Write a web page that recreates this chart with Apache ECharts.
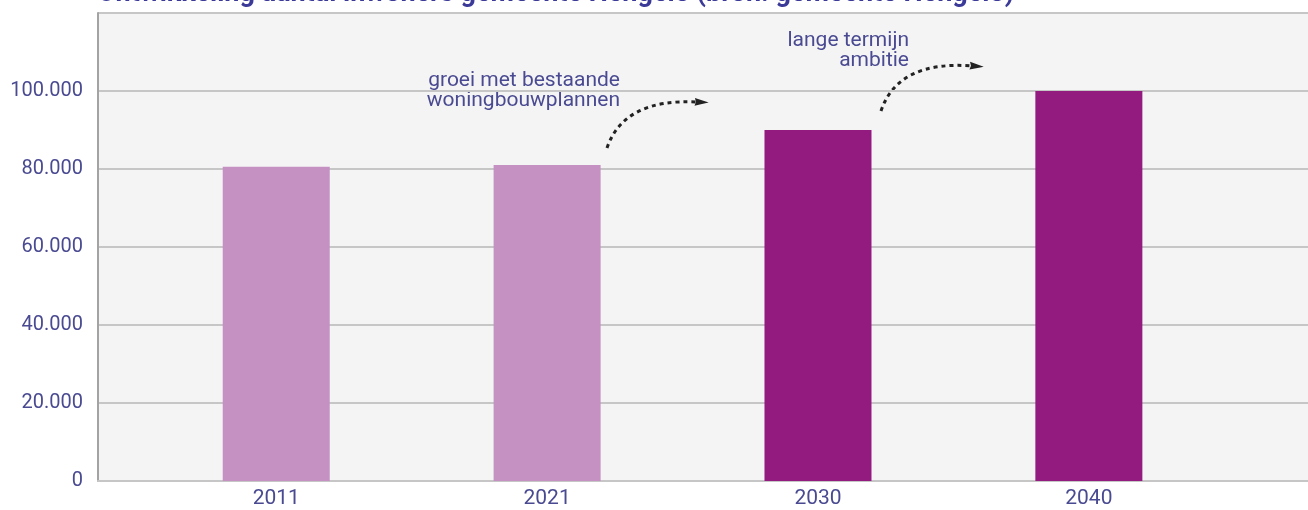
<!DOCTYPE html>
<html>
<head>
<meta charset="utf-8">
<title>Ontwikkeling aantal inwoners gemeente Hengelo</title>
<script src="https://cdn.jsdelivr.net/npm/echarts@6/dist/echarts.min.js"></script>
<style>
  html, body { margin: 0; padding: 0; background: #fff; }
  #chart { width: 1308px; height: 510px; }
</style>
</head>
<body>
<div id="chart"></div>
<script>
// data
var years = ['2011', '2021', '2030', '2040']
var inwoners = [80600, 81000, 90000, 100000]
var barColors = ['#c590c2', '#c590c2', '#931a7e', '#931a7e']
var yTicks = [0, 20000, 40000, 60000, 80000, 100000, 120000]
var annotations = [
  { text: 'groei met bestaande\nwoningbouwplannen', x: 620, y: 70, align: 'right' },
  { text: 'lange termijn\nambitie', x: 909, y: 30, align: 'right' }
]

var textColor = '#4a4a92'
var gridColor = '#c6c6c6'

var chart = echarts.init(document.getElementById('chart'), null, { renderer: 'canvas' })

function fmt(v) {
  if (v === 0) return '0'
  if (v === 120000) return ''
  return (v / 1000) + '.000'
}

// dashed curved arrow (annotation decoration)
function arrow(x1, y1, cx, cy, x2, y2) {
  var ang = Math.atan2(y2 - cy, x2 - cx)
  var tip = [x2 + Math.cos(ang) * 7, y2 + Math.sin(ang) * 7]
  var l = [x2 + Math.cos(ang + 2.2) * 3, y2 + Math.sin(ang + 2.2) * 3]
  var r = [x2 + Math.cos(ang - 2.2) * 3, y2 + Math.sin(ang - 2.2) * 3]
  return [{
    type: 'bezierCurve',
    shape: { x1: x1, y1: y1, cpx1: cx, cpy1: cy, x2: x2, y2: y2 },
    style: { stroke: '#222', lineWidth: 3, lineDash: [4, 4], fill: null }
  }, {
    type: 'polygon',
    shape: { points: [tip, l, [x2 - Math.cos(ang) * 1, y2 - Math.sin(ang) * 1], r] },
    style: { fill: '#222', stroke: '#222', lineWidth: 2 }
  }]
}

var graphics = [{
  type: 'text',
  x: 97,
  y: 8,
  style: {
    text: 'Ontwikkeling aantal inwoners gemeente Hengelo (bron: gemeente Hengelo)',
    font: 'bold 27px Roboto',
    fill: '#3b3a98',
    verticalAlign: 'bottom'
  }
}]
annotations.forEach(function (a) {
  graphics.push({
    type: 'text',
    x: a.x,
    y: a.y,
    style: {
      text: a.text,
      font: '21px Roboto',
      fill: textColor,
      align: a.align,
      lineHeight: 20.5
    }
  })
})
graphics = graphics.concat(arrow(607, 148, 624, 98, 698, 102))
graphics = graphics.concat(arrow(881, 111, 898, 60, 973, 66))

chart.setOption({
  animation: false,
  grid: {
    left: 98,
    right: 0,
    top: 13,
    bottom: 29,
    show: true,
    backgroundColor: '#f4f4f4',
    borderWidth: 0
  },
  xAxis: {
    type: 'value',
    min: -0.658,
    max: 3.809,
    axisLine: { show: true, lineStyle: { color: gridColor, width: 2 } },
    axisTick: { show: false },
    splitLine: { show: false },
    axisLabel: {
      customValues: [0, 1, 2, 3],
      formatter: function (v) { return years[Math.round(v)] },
      color: textColor,
      fontFamily: 'Roboto',
      fontSize: 21,
      margin: 7
    }
  },
  yAxis: {
    type: 'value',
    min: yTicks[0],
    max: yTicks[yTicks.length - 1],
    interval: yTicks[1] - yTicks[0],
    axisLine: { show: true, onZero: false, lineStyle: { color: '#a3a3a3', width: 2 } },
    axisTick: { show: false },
    splitLine: { show: true, lineStyle: { color: gridColor, width: 2 } },
    axisLabel: {
      formatter: fmt,
      color: textColor,
      fontFamily: 'Roboto',
      fontSize: 20,
      margin: 15
    }
  },
  series: [{
    type: 'bar',
    barWidth: 107,
    data: inwoners.map(function (v, i) {
      return { value: [i, v], itemStyle: { color: barColors[i] } }
    })
  }],
  graphic: graphics
})
</script>
</body>
</html>
